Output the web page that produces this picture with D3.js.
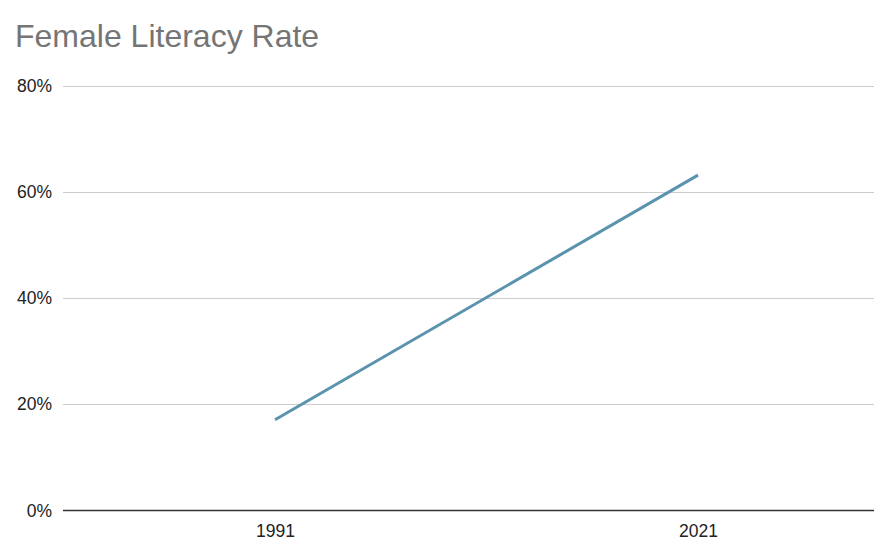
<!DOCTYPE html>
<html>
<head>
<meta charset="utf-8">
<script src="https://cdn.jsdelivr.net/npm/d3@7"></script>
<style>
  body { margin: 0; background: #fff; }
  text { font-family: "Liberation Sans", Arial, sans-serif; }
</style>
</head>
<body>
<div id="chart"></div>
<script>
const years = ["1991", "2021"];
const femaleLiteracy = [17.1, 63.2];
const yTicks = [0, 20, 40, 60, 80];

const width = 875;
const height = 545;
const margin = { top: 86, right: 0, bottom: 34, left: 63 };

const svg = d3.select("#chart")
    .append("svg")
    .attr("width", width)
    .attr("height", height);

// Title
svg.append("text")
    .attr("x", 15)
    .attr("y", 47)
    .attr("font-size", 32)
    .attr("fill", "#757575")
    .text("Female Literacy Rate");

const plotBottom = height - margin.bottom - 0.5;

// plot area is wider than the picture (chart cropped on the right)
const xScale = d3.scalePoint()
    .domain(years)
    .range([margin.left + 0.5, 909.5])
    .padding(0.5);

const yScale = d3.scaleLinear()
    .domain([0, 80])
    .range([plotBottom, margin.top]);

// Gridlines
svg.append("g")
    .selectAll("line")
    .data(yTicks.filter(d => d > 0))
    .join("line")
    .attr("x1", margin.left)
    .attr("x2", width - 1)
    .attr("y1", d => Math.round(yScale(d)) + 0.5)
    .attr("y2", d => Math.round(yScale(d)) + 0.5)
    .attr("stroke", "#cccccc")
    .attr("stroke-width", 1);

// Y axis labels
const yAxis = svg.append("g")
    .attr("transform", `translate(${margin.left}, 0)`)
    .call(d3.axisLeft(yScale).tickValues(yTicks).tickSize(0).tickPadding(11).tickFormat(d => d + "%"));
yAxis.select(".domain").remove();
yAxis.selectAll("text")
    .attr("font-size", 17.5)
    .attr("fill", "#222")
    .attr("font-family", "Liberation Sans, Arial, sans-serif");

// X axis
const xAxis = svg.append("g")
    .attr("transform", `translate(0, ${plotBottom})`)
    .call(d3.axisBottom(xScale).tickSize(0).tickPadding(14));
xAxis.select(".domain").remove();
xAxis.selectAll("text")
    .attr("font-size", 17.5)
    .attr("fill", "#222")
    .attr("font-family", "Liberation Sans, Arial, sans-serif");

svg.append("line")
    .attr("x1", margin.left)
    .attr("x2", width - 1)
    .attr("y1", plotBottom)
    .attr("y2", plotBottom)
    .attr("stroke", "#333")
    .attr("stroke-width", 1.5);

// Line
const line = d3.line()
    .x((d, i) => xScale(years[i]))
    .y(d => yScale(d));

svg.append("path")
    .datum(femaleLiteracy)
    .attr("fill", "none")
    .attr("stroke", "#5a93ae")
    .attr("stroke-width", 3)
    .attr("d", line);
</script>
</body>
</html>
